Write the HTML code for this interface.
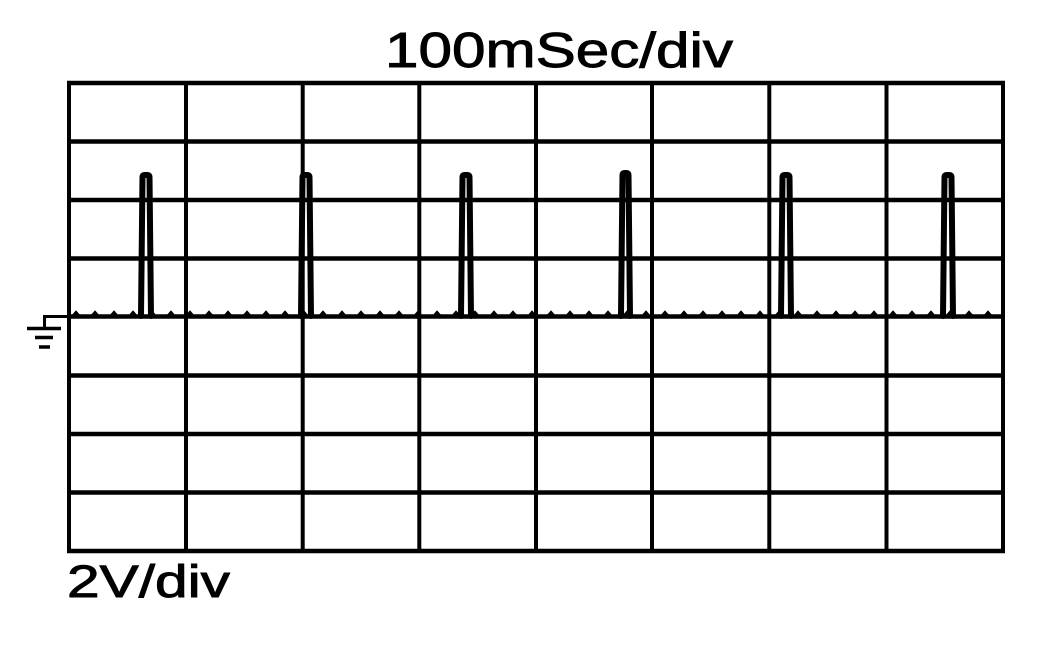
<!DOCTYPE html>
<html>
<head>
<meta charset="utf-8">
<style>
  html, body { margin: 0; padding: 0; background: #fff; }
  body { width: 1052px; height: 650px; overflow: hidden; }
  svg { display: block; }
</style>
</head>
<body>
<svg width="1052" height="650" viewBox="0 0 1052 650" xmlns="http://www.w3.org/2000/svg">
  <defs>
    <pattern id="noise" x="69" y="309" width="19" height="12" patternUnits="userSpaceOnUse">
      <path d="M0,7 L4,7 L7,3.5 L10,7 L19,7" fill="none" stroke="#000" stroke-width="3"/>
    </pattern>
  </defs>
  <rect width="1052" height="650" fill="#fff"/>

  <!-- horizontal grid lines -->
  <g stroke="#000" stroke-width="4.5" fill="none">
    <line x1="67" y1="83" x2="1005" y2="83"/>
    <line x1="67" y1="141.5" x2="1005" y2="141.5"/>
    <line x1="67" y1="200" x2="1005" y2="200"/>
    <line x1="67" y1="258.5" x2="1005" y2="258.5"/>
    <line x1="67" y1="375.5" x2="1005" y2="375.5"/>
    <line x1="67" y1="434" x2="1005" y2="434"/>
    <line x1="67" y1="492.5" x2="1005" y2="492.5"/>
    <line x1="67" y1="551" x2="1005" y2="551"/>
  </g>
  <!-- vertical grid lines -->
  <g stroke="#000" stroke-width="4" fill="none">
    <line x1="69" y1="81" x2="69" y2="553"/>
    <line x1="186" y1="81" x2="186" y2="553"/>
    <line x1="302.7" y1="81" x2="302.7" y2="553"/>
    <line x1="419.3" y1="81" x2="419.3" y2="553"/>
    <line x1="536" y1="81" x2="536" y2="553"/>
    <line x1="652" y1="81" x2="652" y2="553"/>
    <line x1="769.3" y1="81" x2="769.3" y2="553"/>
    <line x1="886.5" y1="81" x2="886.5" y2="553"/>
    <line x1="1003" y1="81" x2="1003" y2="553"/>
  </g>

  <!-- baseline trace -->
  <line x1="67" y1="316.5" x2="1005" y2="316.5" stroke="#000" stroke-width="4.5"/>
  <rect x="69" y="309" width="934" height="12" fill="url(#noise)"/>

  <!-- pulses -->
  <g stroke="#000" stroke-width="6" fill="none" stroke-linejoin="round" stroke-linecap="round">
    <path d="M141,316 L142.5,177 Q142.5,175 144.5,175 L147.5,175 Q149.5,175 149.5,177 L151,316"/>
    <path d="M301,316 L302.5,177 Q302.5,175 304.5,175 L307.5,175 Q309.5,175 309.5,177 L311,316"/>
    <path d="M461,316 L462.5,177 Q462.5,175 464.5,175 L467.5,175 Q469.5,175 469.5,177 L471,316"/>
    <path d="M621,316 L622.5,175 Q622.5,173 624.5,173 L626.5,173 Q628.5,173 628.5,175 L630,316"/>
    <path d="M781,316 L782.5,177 Q782.5,175 784.5,175 L787.5,175 Q789.5,175 789.5,177 L791,316"/>
    <path d="M943,316 L944.5,177 Q944.5,175 946.5,175 L949.5,175 Q951.5,175 951.5,177 L953,316"/>
  </g>

  <!-- ground marker -->
  <g stroke="#000" fill="none">
    <path d="M68,316.5 L44.5,316.5 L44.5,328" stroke-width="3"/>
    <line x1="27" y1="328.5" x2="61" y2="328.5" stroke-width="3.5"/>
    <line x1="35" y1="337.5" x2="53" y2="337.5" stroke-width="3.5"/>
    <line x1="39" y1="347" x2="50" y2="347" stroke-width="3.5"/>
  </g>

  <!-- labels -->
  <text x="385" y="67" font-family="'Liberation Sans', Arial, sans-serif" font-size="49" textLength="348" lengthAdjust="spacingAndGlyphs" fill="#000" stroke="#000" stroke-width="0.9">100mSec/div</text>
  <text x="67" y="597" font-family="'Liberation Sans', Arial, sans-serif" font-size="45" textLength="163" lengthAdjust="spacingAndGlyphs" fill="#000" stroke="#000" stroke-width="0.9">2V/div</text>
</svg>
</body>
</html>
